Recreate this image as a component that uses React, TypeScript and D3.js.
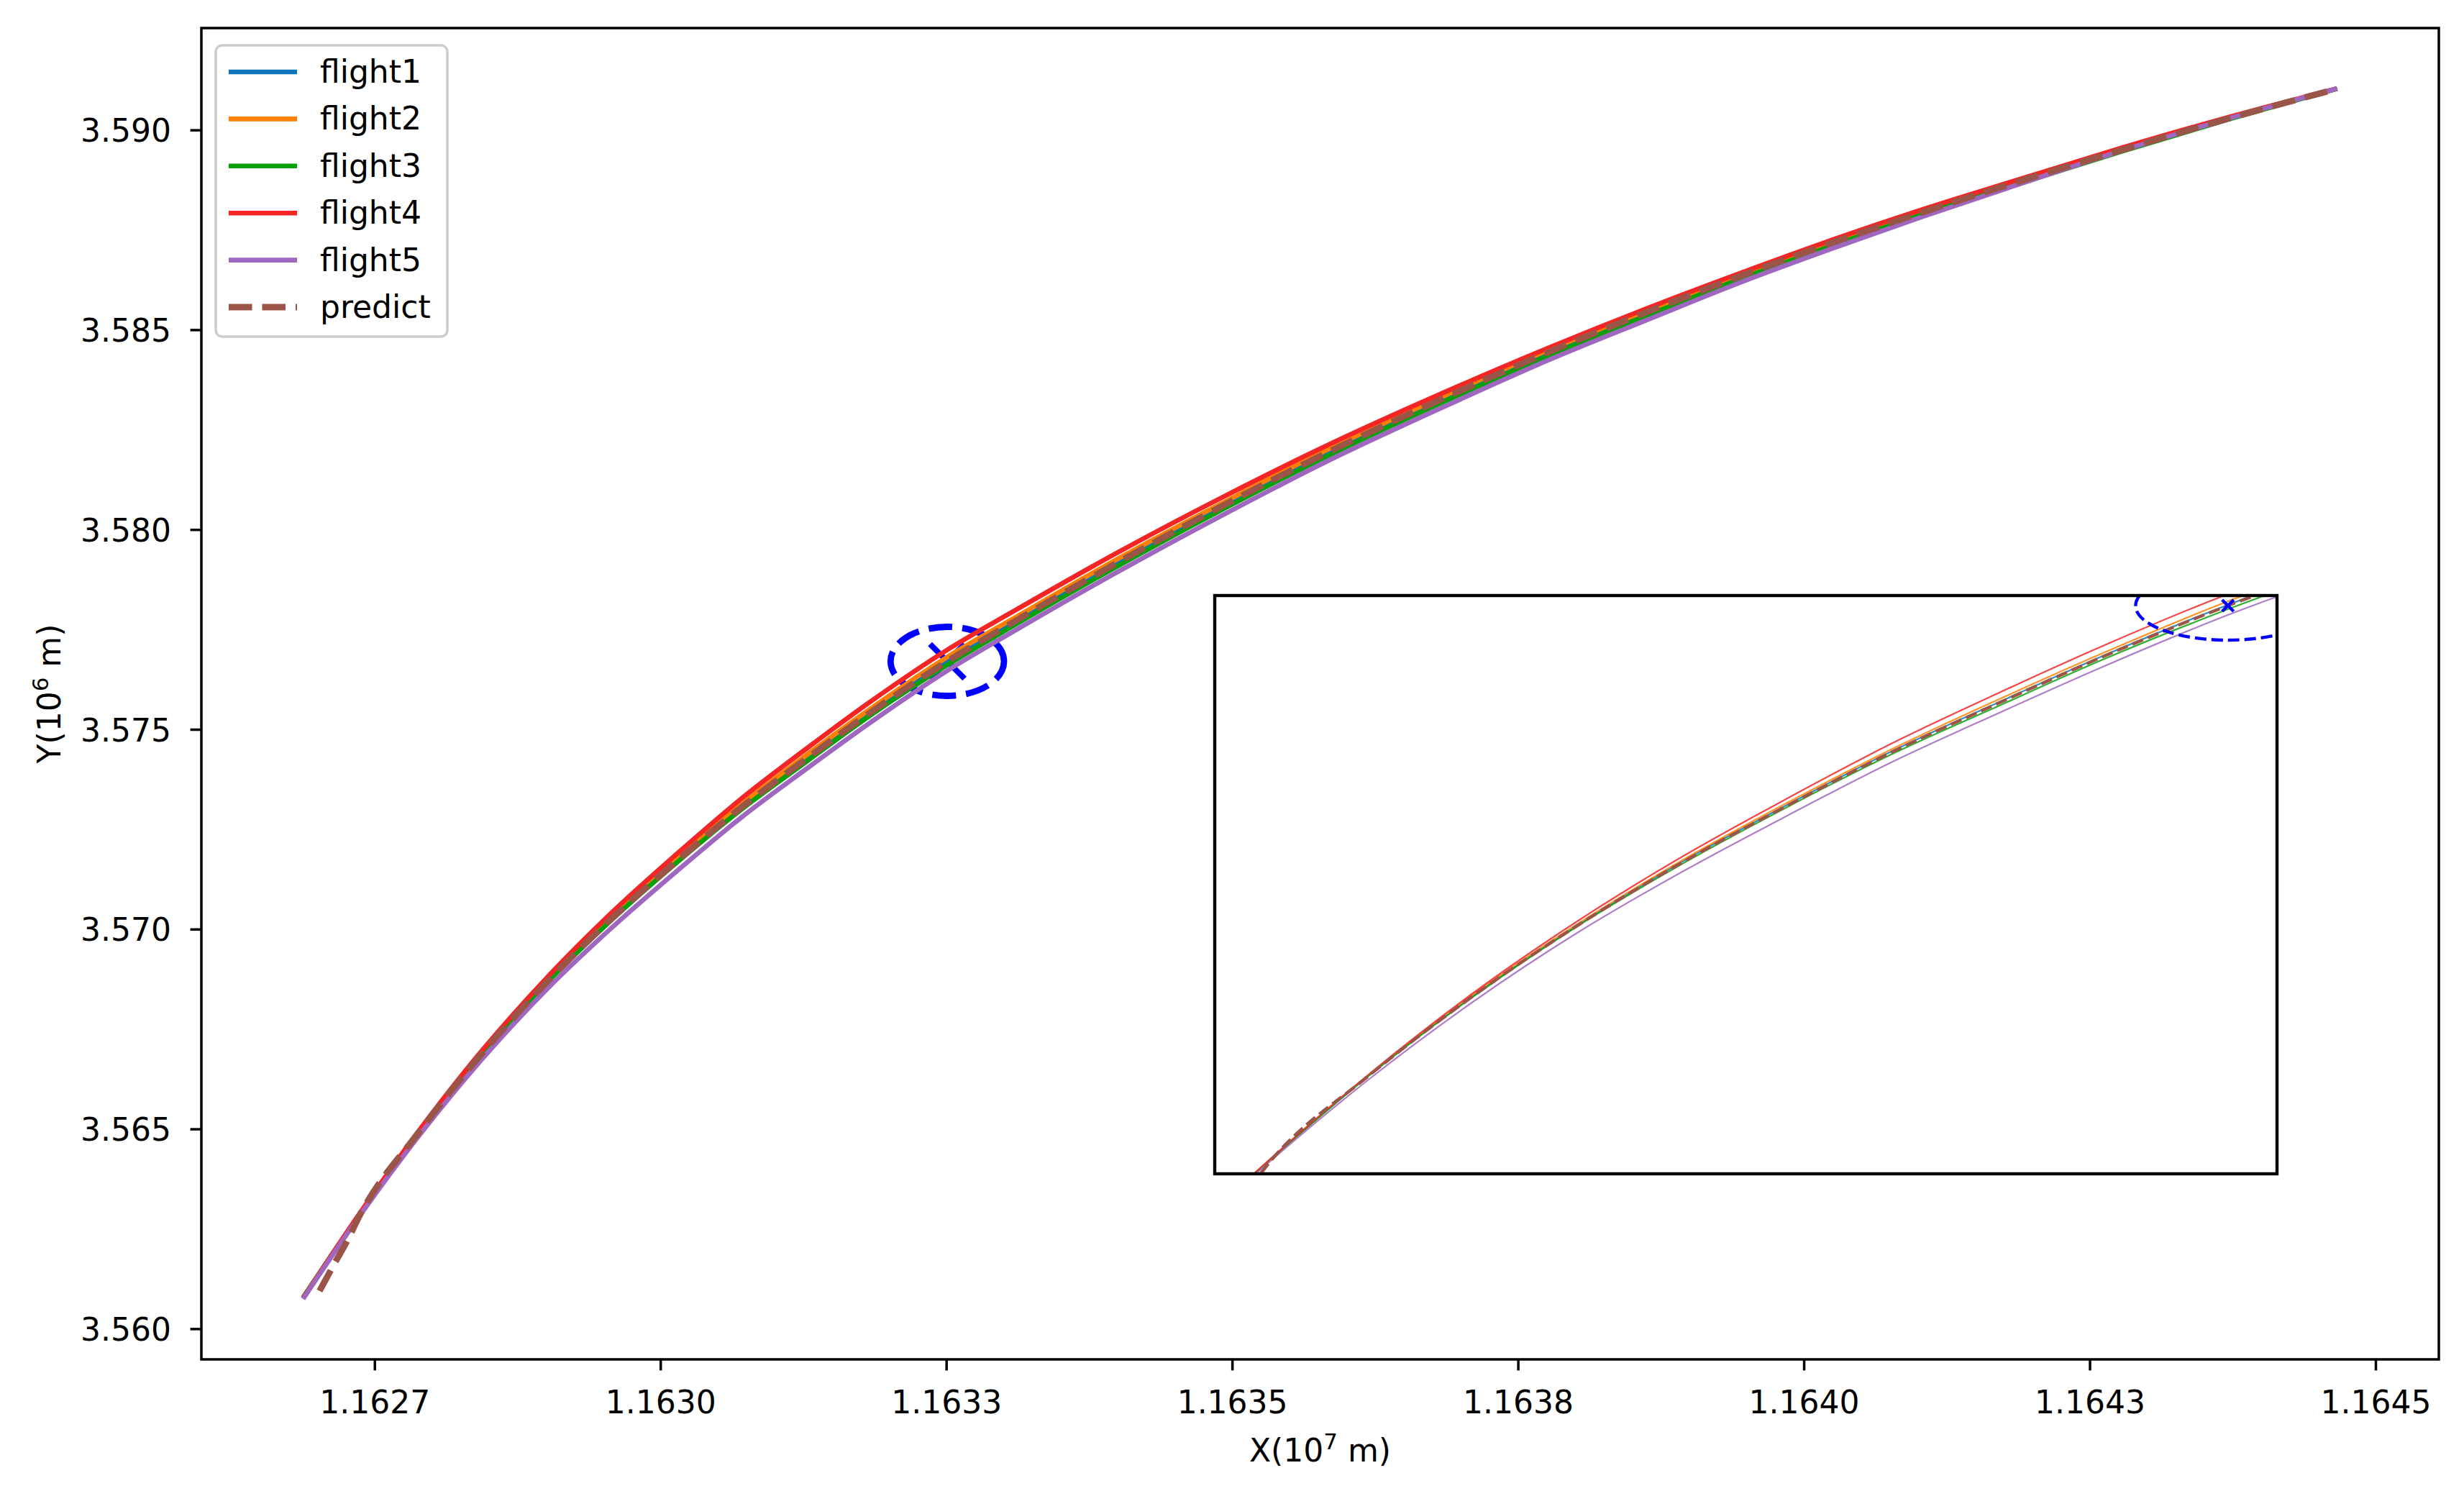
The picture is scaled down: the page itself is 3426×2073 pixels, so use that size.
import React, { useEffect } from 'react';
import * as d3 from 'd3';

// figure size and axes box (px)
const W = 3426;
const H = 2073;
const plot = { left: 280, right: 3391, top: 39, bottom: 1890 };
const inset = { left: 1689, right: 3166, top: 828, bottom: 1632 };

// X in 1e7 m, Y in 1e6 m
const flightX = [
  1.1626872, 1.1627312, 1.1627877, 1.1628442, 1.1629008, 1.1629573, 1.1630138, 1.1630704, 1.1631269,
  1.1631834, 1.1632506, 1.163309, 1.163397, 1.1634912, 1.1635854, 1.1636797, 1.1637739, 1.1638681,
  1.1639466, 1.1640251, 1.1641036, 1.1641822, 1.1642764, 1.1643706, 1.1644661,
];
const flight1Y = [
  3.560774, 3.562647, 3.564898, 3.566915, 3.568697, 3.5703, 3.571723, 3.573073, 3.57428, 3.57545,
  3.576728, 3.577719, 3.579159, 3.580618, 3.581987, 3.583229, 3.584417, 3.585516, 3.58638, 3.587191,
  3.587947, 3.588667, 3.589495, 3.590288, 3.591044,
];
const flight2Y = [
  3.560774, 3.562647, 3.564916, 3.566951, 3.568733, 3.570336, 3.571777, 3.573127, 3.574352, 3.575522,
  3.576818, 3.577791, 3.579231, 3.580672, 3.582041, 3.583283, 3.584471, 3.585552, 3.586416, 3.587227,
  3.587965, 3.588685, 3.589513, 3.590288, 3.591044,
];
const flight3Y = [
  3.560792, 3.562647, 3.564898, 3.566897, 3.568679, 3.570246, 3.571669, 3.573001, 3.57419, 3.57536,
  3.57662, 3.577611, 3.579051, 3.58051, 3.581879, 3.583139, 3.584327, 3.585426, 3.586308, 3.587119,
  3.587893, 3.588613, 3.589459, 3.59027, 3.591044,
];
const flight4Y = [
  3.560774, 3.562665, 3.564934, 3.566987, 3.568805, 3.570426, 3.571885, 3.573271, 3.574514, 3.575702,
  3.576998, 3.577971, 3.579393, 3.580816, 3.582149, 3.583373, 3.584525, 3.585606, 3.586452, 3.587263,
  3.588019, 3.588721, 3.589549, 3.590324, 3.591044,
];
const flight5Y = [
  3.560756, 3.562611, 3.564808, 3.566771, 3.568517, 3.570048, 3.571453, 3.572803, 3.57401, 3.57518,
  3.576476, 3.577467, 3.578907, 3.580366, 3.581753, 3.583013, 3.584219, 3.585318, 3.586218, 3.587047,
  3.587839, 3.588595, 3.589477, 3.590288, 3.591044,
];
const predictX = [
  1.1627016, 1.1627136, 1.1627249, 1.1627374, 1.1627877, 1.1628442, 1.1629008, 1.1629573, 1.1630138,
  1.1630704, 1.1631269, 1.1631834, 1.1632506, 1.163309, 1.163397, 1.1634912, 1.1635854, 1.1636797,
  1.1637739, 1.1638681, 1.1639466, 1.1640251, 1.1641036, 1.1641822, 1.1642764, 1.1643706, 1.1644573,
];
const predictY = [
  3.560954, 3.561585, 3.562161, 3.562881, 3.564898, 3.566915, 3.568697, 3.570282, 3.571705, 3.573055,
  3.574262, 3.575432, 3.57671, 3.577701, 3.579141, 3.5806, 3.581969, 3.583229, 3.584417, 3.585516,
  3.58638, 3.587191, 3.587947, 3.588667, 3.589495, 3.590288, 3.590972,
];

const xTicks = [1.16275, 1.163, 1.16325, 1.1635, 1.16375, 1.164, 1.16425, 1.1645];
const xTickLabels = ['1.1627', '1.1630', '1.1633', '1.1635', '1.1638', '1.1640', '1.1643', '1.1645'];
const yTicks = [3.56, 3.565, 3.57, 3.575, 3.58, 3.585, 3.59];
const yTickLabels = ['3.560', '3.565', '3.570', '3.575', '3.580', '3.585', '3.590'];

// highlighted point and its ellipse (data units)
const markPoint = [1.1632506, 3.57671];
const ellipseRadius = [4.96e-5, 8.64e-4];

// zoomed inset limits
const insetXDomain = [1.162706, 1.163277];
const insetYDomain = [3.562485, 3.576963];

const series = [
  { name: 'flight1', xs: flightX, ys: flight1Y, color: '#0a76b9', dashed: false },
  { name: 'flight2', xs: flightX, ys: flight2Y, color: '#ff8000', dashed: false },
  { name: 'flight3', xs: flightX, ys: flight3Y, color: '#0aa00a', dashed: false },
  { name: 'flight4', xs: flightX, ys: flight4Y, color: '#f52525', dashed: false },
  { name: 'flight5', xs: flightX, ys: flight5Y, color: '#a067c0', dashed: false },
  { name: 'predict', xs: predictX, ys: predictY, color: '#9b5548', dashed: true },
];

const FONT = 'DejaVu Sans';

function ellipsePath(cx: number, cy: number, rx: number, ry: number) {
  return `M${cx + rx},${cy} A${rx},${ry} 0 1 0 ${cx - rx},${cy} A${rx},${ry} 0 1 0 ${cx + rx},${cy}`;
}

function XMark({ cx, cy, s, w }: { cx: number; cy: number; s: number; w: number }) {
  return (
    <g stroke="#0000ff" strokeWidth={w}>
      <line x1={cx - s} y1={cy - s} x2={cx + s} y2={cy + s} />
      <line x1={cx - s} y1={cy + s} x2={cx + s} y2={cy - s} />
    </g>
  );
}

export default function App() {
  useEffect(() => {
    document.body.style.margin = '0';
  }, []);

  // main axes with matplotlib-like 5% margins
  const allX = series.flatMap((s) => s.xs);
  const allY = series.flatMap((s) => s.ys);
  const [x0, x1] = d3.extent(allX) as [number, number];
  const [y0, y1] = d3.extent(allY) as [number, number];
  const mx = (x1 - x0) * 0.05;
  const my = (y1 - y0) * 0.05;
  const x = d3.scaleLinear().domain([x0 - mx, x1 + mx]).range([plot.left, plot.right]);
  const y = d3.scaleLinear().domain([y0 - my, y1 + my]).range([plot.bottom, plot.top]);

  const ix = d3.scaleLinear().domain(insetXDomain).range([inset.left, inset.right]);
  const iy = d3.scaleLinear().domain(insetYDomain).range([inset.bottom, inset.top]);

  const pathFor = (
    s: (typeof series)[number],
    sx: d3.ScaleLinear<number, number>,
    sy: d3.ScaleLinear<number, number>
  ) =>
    d3
      .line<[number, number]>()
      .x((d) => sx(d[0]))
      .y((d) => sy(d[1]))
      .curve(d3.curveMonotoneX)(s.xs.map((v, i) => [v, s.ys[i]] as [number, number])) || '';

  const ecx = x(markPoint[0]);
  const ecy = y(markPoint[1]);
  const erx = x(markPoint[0] + ellipseRadius[0]) - ecx;
  const ery = ecy - y(markPoint[1] + ellipseRadius[1]);

  const icx = ix(markPoint[0]);
  const icy = iy(markPoint[1]);
  const irx = ix(markPoint[0] + ellipseRadius[0]) - icx;
  const iry = icy - iy(markPoint[1] + ellipseRadius[1]);

  const legendX = 300;
  const legendY = 63;
  const rowH = 65.4;

  return (
    <svg width={W} height={H} style={{ display: 'block', background: '#fff' }} fontFamily={FONT}>
      <defs>
        <clipPath id="mainClip">
          <rect x={plot.left} y={plot.top} width={plot.right - plot.left} height={plot.bottom - plot.top} />
        </clipPath>
        <clipPath id="insetClip">
          <rect x={inset.left} y={inset.top} width={inset.right - inset.left} height={inset.bottom - inset.top} />
        </clipPath>
      </defs>
      <rect x={0} y={0} width={W} height={H} fill="#fff" />

      {/* main plot */}
      <g clipPath="url(#mainClip)">
        <path d={ellipsePath(ecx, ecy, erx, ery)} fill="none" stroke="#0000ff" strokeWidth={8.8} strokeDasharray="33 14" />
        <XMark cx={ecx} cy={ecy} s={24} w={8} />
        {series.map((s) => (
          <path
            key={s.name}
            d={pathFor(s, x, y)}
            fill="none"
            stroke={s.color}
            strokeWidth={s.dashed ? 8.8 : 6.6}
            strokeDasharray={s.dashed ? '32.5 14' : undefined}
          />
        ))}
      </g>

      {/* axes ticks */}
      <g stroke="#000" strokeWidth={3.5}>
        {xTicks.map((t) => (
          <line key={t} x1={x(t)} x2={x(t)} y1={plot.bottom} y2={plot.bottom + 15.4} />
        ))}
        {yTicks.map((t) => (
          <line key={t} x1={plot.left - 15.4} x2={plot.left} y1={y(t)} y2={y(t)} />
        ))}
      </g>
      <g fontSize={44} fill="#000">
        {xTicks.map((t, i) => (
          <text key={t} x={x(t)} y={plot.bottom + 75} textAnchor="middle">
            {xTickLabels[i]}
          </text>
        ))}
        {yTicks.map((t, i) => (
          <text key={t} x={238} y={y(t) + 16} textAnchor="end">
            {yTickLabels[i]}
          </text>
        ))}
      </g>

      {/* axis labels */}
      <text x={(plot.left + plot.right) / 2} y={2032} fontSize={44} textAnchor="middle">
        X(10
        <tspan fontSize={31} dy={-17}>
          7
        </tspan>
        <tspan dy={17}> m)</tspan>
      </text>
      <text transform={`translate(84, ${(plot.top + plot.bottom) / 2}) rotate(-90)`} fontSize={44} textAnchor="middle">
        Y(10
        <tspan fontSize={31} dy={-17}>
          6
        </tspan>
        <tspan dy={17}> m)</tspan>
      </text>

      <rect
        x={plot.left}
        y={plot.top}
        width={plot.right - plot.left}
        height={plot.bottom - plot.top}
        fill="none"
        stroke="#000"
        strokeWidth={3.5}
      />

      {/* legend */}
      <g>
        <rect
          x={legendX}
          y={legendY}
          width={322}
          height={405}
          rx={9}
          fill="#fff"
          fillOpacity={0.8}
          stroke="#cccccc"
          strokeWidth={3.5}
        />
        {series.map((s, i) => {
          const ly = 100 + i * rowH;
          return (
            <g key={s.name}>
              <line
                x1={318}
                x2={413}
                y1={ly}
                y2={ly}
                stroke={s.color}
                strokeWidth={s.dashed ? 8.8 : 6.6}
                strokeDasharray={s.dashed ? '32.5 14' : undefined}
              />
              <text x={445} y={ly + 15} fontSize={44}>
                {s.name}
              </text>
            </g>
          );
        })}
      </g>

      {/* zoomed inset */}
      <rect
        x={inset.left}
        y={inset.top}
        width={inset.right - inset.left}
        height={inset.bottom - inset.top}
        fill="#fff"
      />
      <g clipPath="url(#insetClip)">
        {series.map((s) => (
          <path
            key={s.name}
            d={pathFor(s, ix, iy)}
            fill="none"
            stroke={s.color}
            strokeWidth={s.dashed ? 4.4 : 2.2}
            strokeOpacity={s.dashed ? 1 : 0.85}
            strokeDasharray={s.dashed ? '16 7' : undefined}
          />
        ))}
        <path d={ellipsePath(icx, icy, irx, iry)} fill="none" stroke="#0000ff" strokeWidth={4.4} strokeDasharray="16 7" />
        <XMark cx={icx} cy={icy} s={8} w={4.4} />
      </g>
      <rect
        x={inset.left}
        y={inset.top}
        width={inset.right - inset.left}
        height={inset.bottom - inset.top}
        fill="none"
        stroke="#000"
        strokeWidth={4.4}
      />
    </svg>
  );
}
